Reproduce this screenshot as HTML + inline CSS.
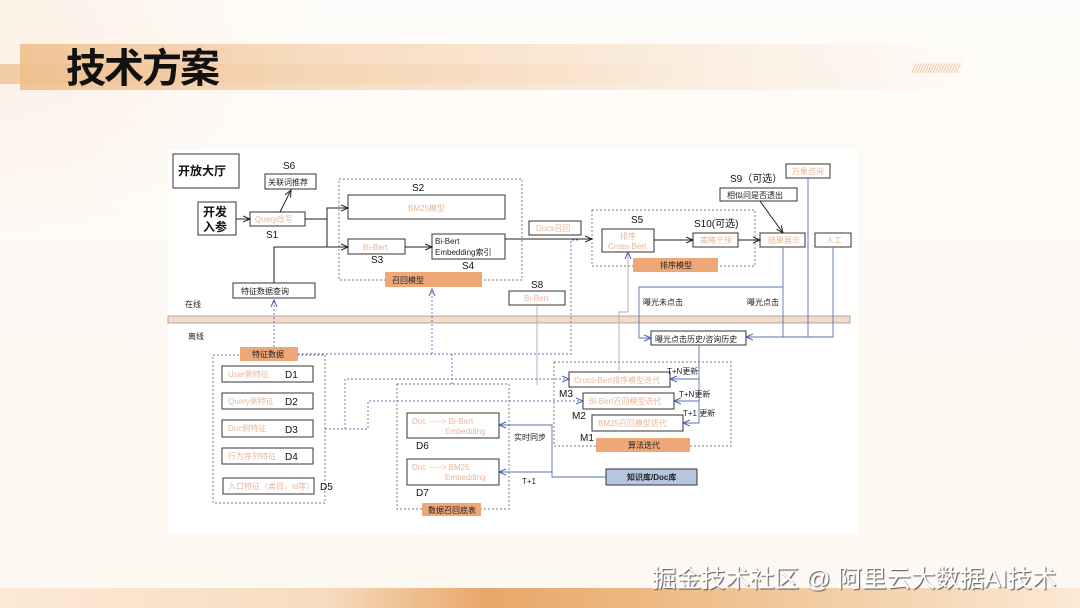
<!DOCTYPE html>
<html><head><meta charset="utf-8"><style>
html,body{margin:0;padding:0}
body{width:1080px;height:608px;overflow:hidden;position:relative;background:#fdf8f2;font-family:"Liberation Sans","Noto Sans CJK SC",sans-serif}
.abs{position:absolute}
</style></head><body>
<div class="abs" style="left:0;top:0;width:1080px;height:608px;background:radial-gradient(ellipse 320px 240px at 0px 0px,#f7dcc0 0%,#fbeee0 55%,rgba(253,248,242,0) 100%)"></div>
<div class="abs" style="left:0;top:0;width:1080px;height:608px;background:linear-gradient(180deg,#fff 0%,rgba(255,255,255,0.6) 30%,rgba(253,248,242,0) 60%);opacity:.6"></div>
<div class="abs" style="left:20px;top:44px;width:960px;height:46px;background:linear-gradient(90deg,#f1c495 0%,#f7dcc0 30%,#fbeee0 70%,rgba(253,248,242,0) 100%)"></div>
<div class="abs" style="left:0;top:64px;width:700px;height:20px;background:linear-gradient(90deg,#eebb88 0%,#f4d2b0 40%,rgba(250,230,210,0) 100%);opacity:.7"></div>
<div class="abs" style="left:66px;top:36px;font-size:40px;font-weight:bold;color:#111;font-family:'Noto Sans CJK SC',sans-serif;letter-spacing:-2px">技术方案</div>
<div class="abs" style="left:912px;top:61px;font-size:13px;color:#efc9a0;letter-spacing:-1px;font-style:italic">//////////////////</div>
<div class="abs" style="left:0;top:588px;width:1080px;height:20px;background:linear-gradient(90deg,#fbe9d6 0%,#f7dcc0 30%,#e8a768 45%,#f0c595 70%,#fbe9d6 100%)"></div>
<div class="abs" style="left:168px;top:150px;width:690px;height:384px;background:#fff"></div>
<div class="abs" style="left:652px;top:560px;font-size:24.5px;color:#fff;text-shadow:1px 1px 1px #555;white-space:nowrap">掘金技术社区 @ 阿里云大数据AI技术</div>

<svg class="abs" style="left:0;top:0" width="1080" height="608" font-family="Liberation Sans, Noto Sans CJK SC, sans-serif">
<defs>
<marker id="a" markerWidth="8" markerHeight="8" refX="7" refY="4" orient="auto" markerUnits="userSpaceOnUse"><path d="M0,1 L7,4 L0,7" fill="none" stroke="#222" stroke-width="1"/></marker>
<marker id="b" markerWidth="8" markerHeight="8" refX="7" refY="4" orient="auto" markerUnits="userSpaceOnUse"><path d="M0,1 L7,4 L0,7" fill="none" stroke="#4a5fb0" stroke-width="1"/></marker>
</defs>
<g fill="#fff" stroke="#333" stroke-width="1">
<rect x="173" y="154" width="66" height="34"/>
<rect x="265" y="174" width="51" height="15"/>
<rect x="198" y="202" width="38" height="33"/>
<rect x="250" y="212" width="55" height="14"/>
<rect x="348" y="195" width="157" height="24"/>
<rect x="348" y="239" width="57" height="15"/>
<rect x="432" y="234" width="73" height="25"/>
<rect x="233" y="283" width="82" height="15"/>
<rect x="529" y="221" width="52" height="14"/>
<rect x="602" y="229" width="52" height="23"/>
<rect x="693" y="233" width="45" height="14"/>
<rect x="760" y="233" width="45" height="14"/>
<rect x="720" y="188" width="77" height="13"/>
<rect x="786" y="164" width="44" height="14"/>
<rect x="815" y="233" width="36" height="14"/>
<rect x="509" y="291" width="56" height="14"/>
<rect x="651" y="331" width="95" height="14"/>
<rect x="569" y="372" width="101" height="15"/>
<rect x="583" y="393" width="91" height="16"/>
<rect x="592" y="415" width="91" height="16"/>
<rect x="222" y="366" width="91" height="16"/>
<rect x="222" y="393" width="91" height="16"/>
<rect x="222" y="420" width="91" height="17"/>
<rect x="222" y="448" width="91" height="16"/>
<rect x="223" y="478" width="91" height="16"/>
<rect x="407" y="413" width="92" height="25"/>
<rect x="407" y="459" width="92" height="26"/>
</g>
<rect x="606" y="469" width="91" height="16" fill="#b7c6e0" stroke="#333"/>
<rect x="168" y="316" width="682" height="7" fill="#f6d9c8" stroke="#999" stroke-width="0.8"/>
<g fill="none" stroke="#777" stroke-dasharray="2,2" stroke-width="0.9">
<rect x="339" y="179" width="183" height="101"/>
<rect x="592" y="210" width="163" height="56"/>
<rect x="554" y="362" width="177" height="84"/>
<rect x="213" y="355" width="112" height="148"/>
<rect x="397" y="384" width="112" height="125"/>
</g>
<g fill="#eea878">
<rect x="385" y="272" width="97" height="15"/>
<rect x="633" y="258" width="85" height="14"/>
<rect x="596" y="438" width="94" height="14"/>
<rect x="240" y="347" width="58" height="14"/>
<rect x="422" y="503" width="59" height="13"/>
</g>
<g fill="none" stroke="#222" stroke-width="1">
<line x1="236" y1="219" x2="250" y2="219" marker-end="url(#a)"/>
<line x1="280" y1="212" x2="291" y2="190" marker-end="url(#a)"/>
<polyline points="305,219 327,219 327,208 348,208" marker-end="url(#a)"/>
<polyline points="327,219 327,247 348,247" marker-end="url(#a)"/>
<polyline points="274,283 274,247 330,247"/>
<line x1="405" y1="247" x2="432" y2="247" marker-end="url(#a)"/>
<line x1="505" y1="239" x2="592" y2="239" marker-end="url(#a)"/>
<line x1="654" y1="240" x2="693" y2="240" marker-end="url(#a)"/>
<line x1="738" y1="240" x2="760" y2="240" marker-end="url(#a)"/>
<line x1="760" y1="201" x2="783" y2="233" marker-end="url(#a)"/>
</g>
<g fill="none" stroke="#5a6fb8" stroke-width="0.9">
<polyline points="783,247 783,287 639,287 639,338 651,338" marker-end="url(#b)"/>
<polyline points="783,287 783,337"/>
<polyline points="808,178 808,337 746,337" marker-end="url(#b)"/>
<polyline points="833,247 833,337 806,337"/>
<polyline points="699,345 699,423 683,423" marker-end="url(#b)"/>
<line x1="699" y1="379" x2="670" y2="379" marker-end="url(#b)"/>
<line x1="699" y1="401" x2="674" y2="401" marker-end="url(#b)"/>
<polyline points="606,477 552,477 552,425 499,425" marker-end="url(#b)"/>
<line x1="552" y1="472" x2="499" y2="472" marker-end="url(#b)"/>
</g>
<g fill="none" stroke="#aab" stroke-width="0.9">
<polyline points="537,305 537,385"/>
<polyline points="619,372 619,312 628,312 628,252" marker-end="url(#b)"/>
</g>
<g fill="none" stroke="#5a6fb8" stroke-width="0.9" stroke-dasharray="2,2">
<line x1="274" y1="347" x2="274" y2="300" marker-end="url(#b)"/>
<line x1="432" y1="354" x2="432" y2="289" marker-end="url(#b)"/>
<polyline points="298,354 571,354 571,240 580,240"/>
<line x1="452" y1="354" x2="452" y2="384"/>
<polyline points="325,429 345,429 345,379 569,379" marker-end="url(#b)"/>
<polyline points="345,429 368,429 368,401 583,401" marker-end="url(#b)"/>
</g>
<g font-size="12" font-weight="bold" fill="#111">
<text x="178" y="175">开放大厅</text>
<text x="203" y="216">开发</text><text x="203" y="231">入参</text>
</g>
<g font-size="10" fill="#111">
<text x="283" y="169">S6</text><text x="266" y="238">S1</text><text x="412" y="191">S2</text>
<text x="371" y="263">S3</text><text x="462" y="269">S4</text><text x="631" y="223">S5</text>
<text x="694" y="227">S10(可选)</text><text x="730" y="182">S9（可选）</text><text x="531" y="288">S8</text>
<text x="559" y="397">M3</text><text x="572" y="419">M2</text><text x="580" y="441">M1</text>
<text x="285" y="378">D1</text><text x="285" y="405">D2</text><text x="285" y="433">D3</text>
<text x="285" y="460">D4</text><text x="320" y="490">D5</text><text x="416" y="449">D6</text><text x="416" y="496">D7</text>
</g>
<g font-size="8" fill="#222">
<text x="268" y="185">关联词推荐</text>
<text x="435" y="244">Bi-Bert</text><text x="435" y="255">Embedding索引</text>
<text x="241" y="294">特征数据查询</text>
<text x="727" y="198">相似问是否透出</text>
<text x="185" y="307">在线</text><text x="188" y="339">离线</text>
<text x="643" y="305">曝光未点击</text><text x="747" y="305">曝光点击</text>
<text x="655" y="342">曝光点击历史/咨询历史</text>
<text x="667" y="374">T+N更新</text><text x="679" y="397">T+N更新</text><text x="683" y="416">T+1 更新</text>
<text x="514" y="440">实时同步</text><text x="522" y="484">T+1</text>
<text x="392" y="283">召回模型</text><text x="660" y="268">排序模型</text><text x="628" y="448">算法迭代</text>
<text x="252" y="357">特征数据</text><text x="428" y="513">数据召回底表</text>
<text x="627" y="480" font-weight="bold">知识库/Doc库</text>
</g>
<g font-size="8" fill="#e7b79a">
<text x="255" y="222">Query改写</text><text x="408" y="211">BM25模型</text><text x="363" y="250">Bi-Bert</text>
<text x="536" y="231">Docs召回</text><text x="620" y="239">排序</text><text x="608" y="249">Cross-Bert</text>
<text x="700" y="243">策略干预</text><text x="768" y="243">结果展示</text><text x="792" y="174">万象咨询</text>
<text x="826" y="243">人工</text><text x="524" y="301">Bi-Bert</text>
<text x="574" y="383">Cross-Bert排序模型迭代</text><text x="589" y="404">Bi-Bert召回模型迭代</text><text x="598" y="426">BM25召回模型迭代</text>
<text x="228" y="377">User侧特征</text><text x="228" y="404">Query侧特征</text><text x="228" y="431">Doc侧特征</text>
<text x="228" y="459">行为序列特征</text><text x="228" y="489">入口特征（类目，id等）</text>
<text x="412" y="424">Doc -----&gt; Bi-Bert</text><text x="445" y="434">Embedding</text>
<text x="412" y="470">Doc -----&gt; BM25</text><text x="445" y="480">Embedding</text>
</g>
</svg>
</body></html>
